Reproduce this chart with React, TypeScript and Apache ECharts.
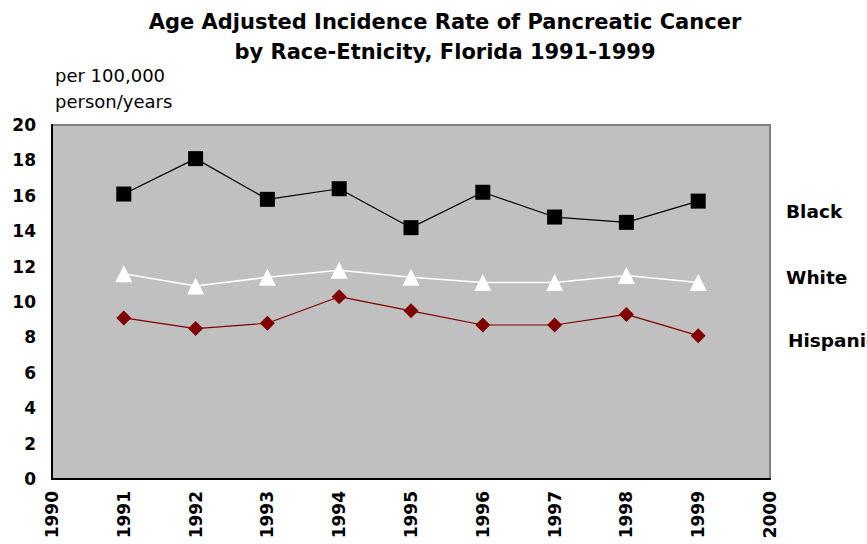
import React, { useEffect, useRef } from "react";
import * as echarts from "echarts";

const years = [1991, 1992, 1993, 1994, 1995, 1996, 1997, 1998, 1999];
const black = [16.1, 18.1, 15.8, 16.4, 14.2, 16.2, 14.8, 14.5, 15.7];
const white = [11.6, 10.9, 11.4, 11.8, 11.4, 11.1, 11.1, 11.5, 11.1];
const hispanic = [9.1, 8.5, 8.8, 10.3, 9.5, 8.7, 8.7, 9.3, 8.1];
const seriesNames = ["Black", "White", "Hispanic"];

export default function App() {
  const ref = useRef<HTMLDivElement>(null);
  useEffect(() => {
    const chart = echarts.init(ref.current!, null, { renderer: "svg" });
    const pair = (arr: number[]) => years.map((y, i) => [y, arr[i]]);
    const font = "'DejaVu Sans', sans-serif";
    chart.setOption({
      animation: false,
      textStyle: { fontFamily: font },
      title: {
        text: "Age Adjusted Incidence Rate of Pancreatic Cancer\nby Race-Etnicity, Florida 1991-1999",
        left: 440,
        textAlign: "center",
        top: 2,
        textStyle: { fontSize: 21, fontWeight: "bold", color: "#000", lineHeight: 30, fontFamily: font },
      },
      graphic: [
        {
          type: "text",
          left: 55,
          top: 62,
          style: { text: "per 100,000\nperson/years", fontSize: 18, lineHeight: 26, fill: "#000", fontFamily: font },
        },
        { type: "text", left: 786, top: 202, style: { text: seriesNames[0], fontSize: 18.5, fontWeight: "bold", fill: "#000", fontFamily: font } },
        { type: "text", left: 786, top: 268, style: { text: seriesNames[1], fontSize: 18.5, fontWeight: "bold", fill: "#000", fontFamily: font } },
        { type: "text", left: 788, top: 331, style: { text: seriesNames[2], fontSize: 18.5, fontWeight: "bold", fill: "#000", fontFamily: font } },
      ],
      grid: {
        left: 52,
        right: 97,
        top: 125,
        bottom: 65,
        show: true,
        backgroundColor: "#c0c0c0",
        borderColor: "#808080",
        borderWidth: 2,
      },
      xAxis: {
        type: "value",
        min: 1990,
        max: 2000,
        interval: 1,
        axisLine: { show: true, lineStyle: { color: "#000", width: 2 } },
        axisTick: { show: false },
        splitLine: { show: false },
        axisLabel: {
          rotate: 90,
          margin: 12,
          fontSize: 17,
          fontWeight: "bold",
          color: "#000",
          fontFamily: font,
          formatter: (v: number) => String(v),
        },
      },
      yAxis: {
        type: "value",
        min: 0,
        max: 20,
        interval: 2,
        axisLine: { show: true, lineStyle: { color: "#000", width: 2 } },
        axisTick: { show: false },
        splitLine: { show: false },
        axisLabel: { margin: 16, fontSize: 17, fontWeight: "bold", color: "#000", fontFamily: font },
      },
      series: [
        {
          name: seriesNames[0],
          type: "line",
          data: pair(black),
          symbol: "rect",
          symbolSize: 15,
          lineStyle: { color: "#000", width: 1.2 },
          itemStyle: { color: "#000" },
        },
        {
          name: seriesNames[1],
          type: "line",
          data: pair(white),
          symbol: "triangle",
          symbolSize: 17,
          lineStyle: { color: "#fff", width: 1.5 },
          itemStyle: { color: "#fff" },
        },
        {
          name: seriesNames[2],
          type: "line",
          data: pair(hispanic),
          symbol: "diamond",
          symbolSize: 15,
          lineStyle: { color: "#800000", width: 1.2 },
          itemStyle: { color: "#800000" },
        },
      ],
    });
    return () => chart.dispose();
  }, []);
  return <div ref={ref} style={{ position: "absolute", left: 0, top: 0, width: 867, height: 544 }} />;
}
